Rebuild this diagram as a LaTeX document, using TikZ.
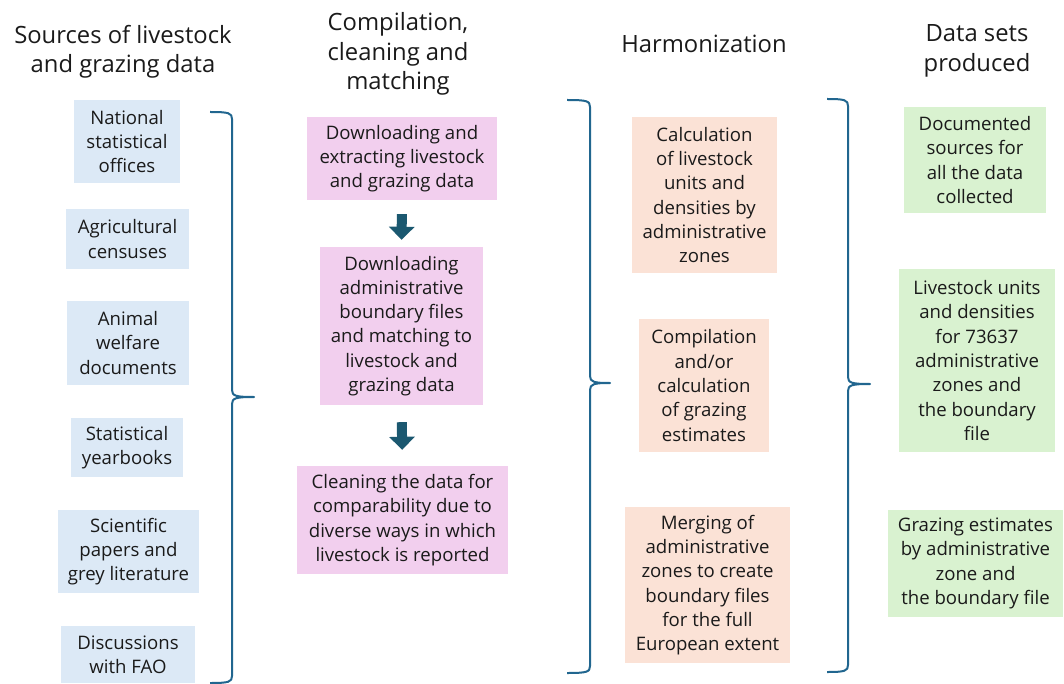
\documentclass[tikz,border=0pt]{standalone}
\usepackage{fontspec}
\setmainfont{Open Sans}
\usetikzlibrary{arrows.meta}
\definecolor{bluefill}{HTML}{DCE9F6}
\definecolor{pinkfill}{HTML}{F2CFEE}
\definecolor{peachfill}{HTML}{FBE2D6}
\definecolor{greenfill}{HTML}{D9F2D0}
\definecolor{bracecol}{HTML}{21668F}
\definecolor{arrowcol}{HTML}{1B5870}
\definecolor{txt}{HTML}{1A1A1A}
\begin{document}
\begin{tikzpicture}[x=1pt,y=-1pt,
  box/.style={inner sep=0pt, align=center, text=txt,
    font=\fontsize{18.6}{24.3}\selectfont},
  hdr/.style={inner sep=0pt, align=center, text=txt,
    font=\fontsize{23.8}{29.5}\selectfont},
  src/.style={box, fill=bluefill},
  cmp/.style={box, fill=pinkfill},
  hrm/.style={box, fill=peachfill},
  dsp/.style={box, fill=greenfill},
  blockarrow/.style={draw=arrowcol, line width=10pt,
    -{Triangle[width=25pt,length=13pt]}},
  bracestyle/.style={draw=bracecol, line width=2pt, line join=round}]
\useasboundingbox (0,0) rectangle (1064,684);

% headers
\node[hdr] (t1) at (123,52) {Sources of livestock\\and grazing data};
\node[hdr] (t2) at (398,54) {Compilation,\\cleaning and\\matching};
\node[hdr] (t3) at (704,44) {Harmonization};
\node[hdr] (t4) at (977,51) {Data sets\\produced};

% sources
\node[src, minimum width=106, minimum height=83] (s1) at (127,141.5) {National\\statistical\\offices};
\node[src, minimum width=123, minimum height=60] (s2) at (127.5,239) {Agricultural\\censuses};
\node[src, minimum width=122, minimum height=84] (s3) at (128,343) {Animal\\welfare\\documents};
\node[src, minimum width=112, minimum height=59] (s4) at (127,447.5) {Statistical\\yearbooks};
\node[src, minimum width=141, minimum height=83] (s5) at (128.5,551.5) {Scientific\\papers and\\grey literature};
\node[src, minimum width=134, minimum height=57] (s6) at (128,654.5) {Discussions\\with FAO};

% compilation
\node[cmp, minimum width=190, minimum height=83] (m1) at (402,158.5) {Downloading and\\extracting livestock\\and grazing data};
\node[cmp, minimum width=163, minimum height=158] (m2) at (401.5,326) {Downloading\\administrative\\boundary files\\and matching to\\livestock and\\grazing data};
\node[cmp, minimum width=211, minimum height=108] (m3) at (402.5,520) {Cleaning the data for\\comparability due to\\diverse ways in which\\livestock is reported};

\draw[blockarrow, shorten <=14pt, shorten >=7pt] (m1.south) -- (m2.north);
\draw[blockarrow, shorten <=17pt, shorten >=16pt] (m2.south) -- (m3.north);

% harmonization
\node[hrm, minimum width=145, minimum height=156] (h1) at (704.5,195) {Calculation\\of livestock\\units and\\densities by\\administrative\\zones};
\node[hrm, minimum width=130, minimum height=133] (h2) at (704,385.5) {Compilation\\and/or\\calculation\\of grazing\\estimates};
\node[hrm, minimum width=165, minimum height=156] (h3) at (707.5,585) {Merging of\\administrative\\zones to create\\boundary files\\for the full\\European extent};

% data sets produced
\node[dsp, minimum width=142, minimum height=106] (d1) at (975,160) {Documented\\sources for\\all the data\\collected};
\node[dsp, minimum width=156, minimum height=183] (d2) at (977,360.5) {Livestock units\\and densities\\for 73637\\administrative\\zones and\\the boundary\\file};
\node[dsp, minimum width=175, minimum height=107] (d3) at (975.5,563.5) {Grazing estimates\\by administrative\\zone and\\the boundary file};

% braces: name / left x / spine x / top y / bottom y / mid y / tip x
\foreach \b/\xl/\xv/\yt/\yb/\ym/\xt in {b1/210/232/112/683/397/254, b2/567/590/100/673/383/610, b3/827/848/99/672/384/870}{
  \coordinate (\b top) at (\xl,\yt);
  \coordinate (\b bot) at (\xl,\yb);
  \coordinate (\b tip) at (\xt,\ym);
  \draw[bracestyle] (\b top) .. controls (\xv-3,\yt) and (\xv,\yt+1) .. (\xv,\yt+7)
    -- (\xv,\ym-7) .. controls (\xv,\ym-1) and (\xv+4,\ym) .. (\b tip)
    .. controls (\xv+4,\ym) and (\xv,\ym+1) .. (\xv,\ym+7)
    -- (\xv,\yb-7) .. controls (\xv,\yb-1) and (\xv-3,\yb) .. (\b bot);
}
\end{tikzpicture}
\end{document}
